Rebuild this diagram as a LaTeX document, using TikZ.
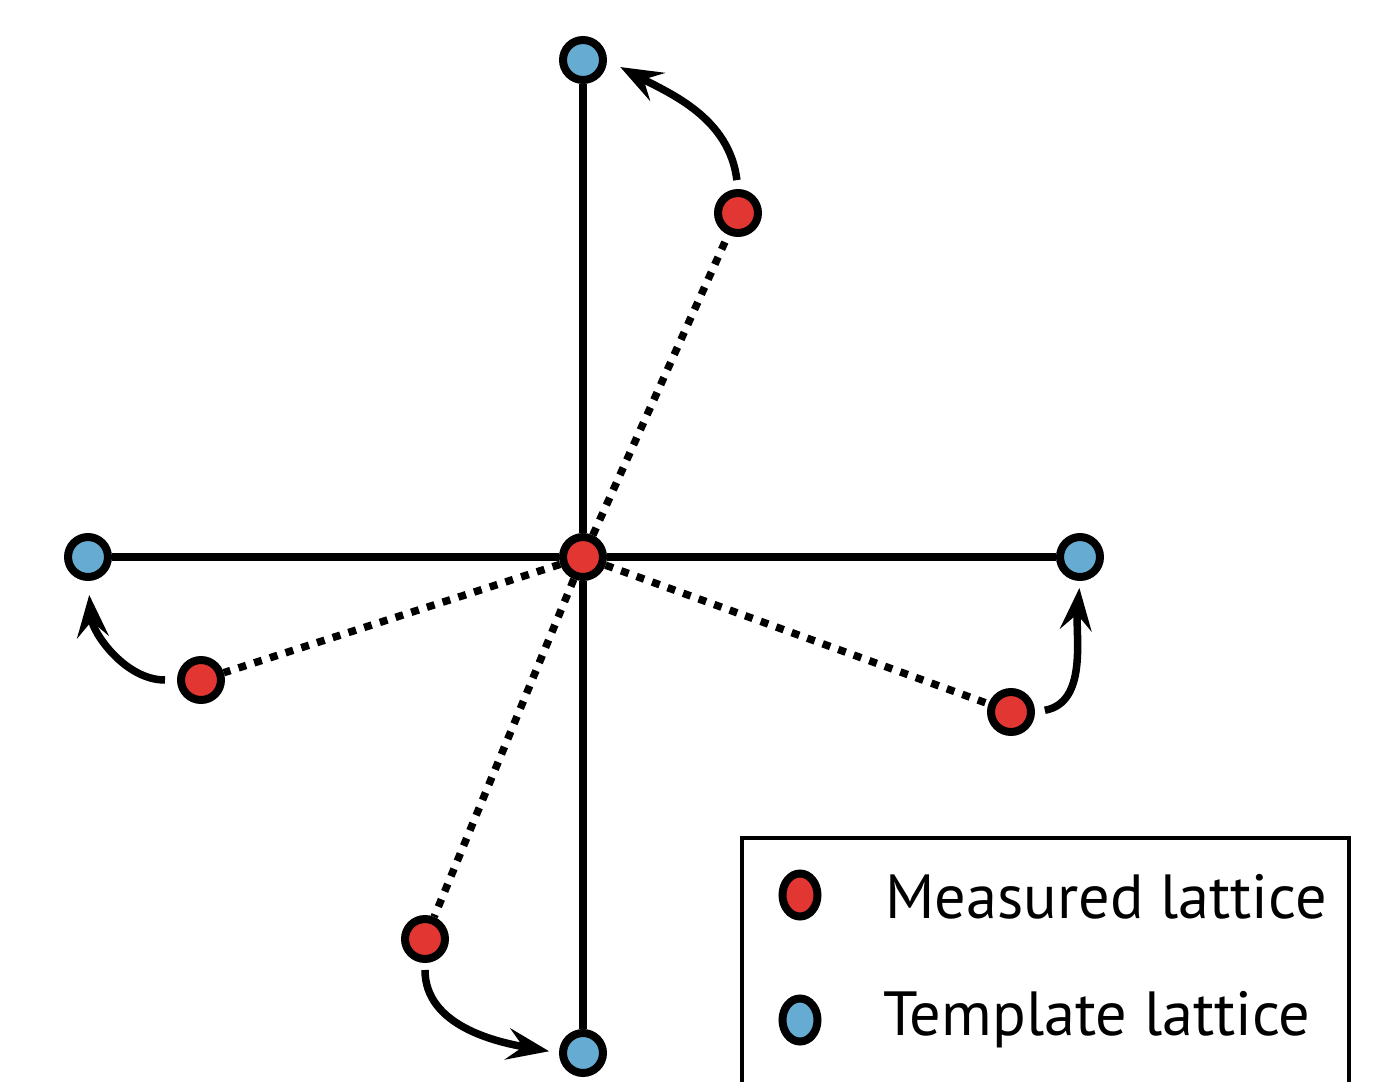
\documentclass[tikz,border=0pt]{standalone}
\usepackage{fontspec}
\setmainfont{PT Sans}
\usepackage{xcolor}
\usetikzlibrary{arrows.meta,shapes.geometric}
\definecolor{measred}{HTML}{E13632}
\definecolor{tmplblue}{HTML}{66ACD2}

\begin{document}
\begin{tikzpicture}[
    x=0.02cm, y=-0.02cm,
    lat/.style={circle, draw, line width=0.16cm, inner sep=0pt, minimum size=0.8cm},
    meas/.style={lat, fill=measred},
    tmpl/.style={lat, fill=tmplblue},
    legdot/.style={ellipse, draw, line width=0.16cm, inner sep=0pt, minimum width=0.7cm, minimum height=0.86cm},
    axis/.style={line width=0.15cm},
    dev/.style={line width=0.15cm, dash pattern=on 0.16cm off 0.17cm},
    movearrow/.style={line width=0.15cm, -{Stealth[length=24pt, width=18pt, inset=9pt]}},
    legtext/.style={anchor=base west, inner sep=0pt, font=\fontsize{35.5}{40}\selectfont}
]
    \clip (0,0) rectangle (1394,1082);
    \useasboundingbox (0,0) rectangle (1394,1082);

    % template and measured lattice points
    \node[meas] (c) at (583,557) {};
    \node[tmpl] (tT) at (583,60) {};
    \node[tmpl] (tB) at (583,1053) {};
    \node[tmpl] (tL) at (88,557) {};
    \node[tmpl] (tR) at (1080,557) {};
    \node[meas] (mT) at (738,213) {};
    \node[meas] (mL) at (201,680) {};
    \node[meas] (mR) at (1011,712) {};
    \node[meas] (mB) at (425,939) {};

    % lattice vectors
    \draw[axis] (c) -- (tT);
    \draw[axis] (c) -- (tB);
    \draw[axis] (c) -- (tL);
    \draw[axis] (c) -- (tR);
    \draw[dev] (c) -- (mT);
    \draw[dev] (c) -- (mL);
    \draw[dev] (c) -- (mR);
    \draw[dev] (c) -- (mB);

    % displacement arrows
    \draw[movearrow, shorten <=0.18cm, shorten >=0.3cm] (mT.north) to[out=97, in=-28] (tT.east);
    \draw[movearrow, shorten <=0.24cm, shorten >=0.28cm] (mL.west) to[out=180, in=-85] (tL.south);
    \draw[movearrow, shorten <=0.2cm, shorten >=0.14cm] (mR.east) to[out=10, in=-95] (tR.south);
    \draw[movearrow, shorten <=0.14cm, shorten >=0.2cm] (mB.south) to[out=-90, in=170] (tB.west);

    % legend
    \draw[line width=0.09cm] (742,838) rectangle (1349,1120);
    \node[legdot, fill=measred] (lgM) at (800,895) {};
    \node[legdot, fill=tmplblue] (lgT) at (800,1020) {};
    \node[legtext] (lgMtxt) at (885,918) {Measured lattice};
    \node[legtext] (lgTtxt) at (883,1035) {Template lattice};
\end{tikzpicture}
\end{document}
